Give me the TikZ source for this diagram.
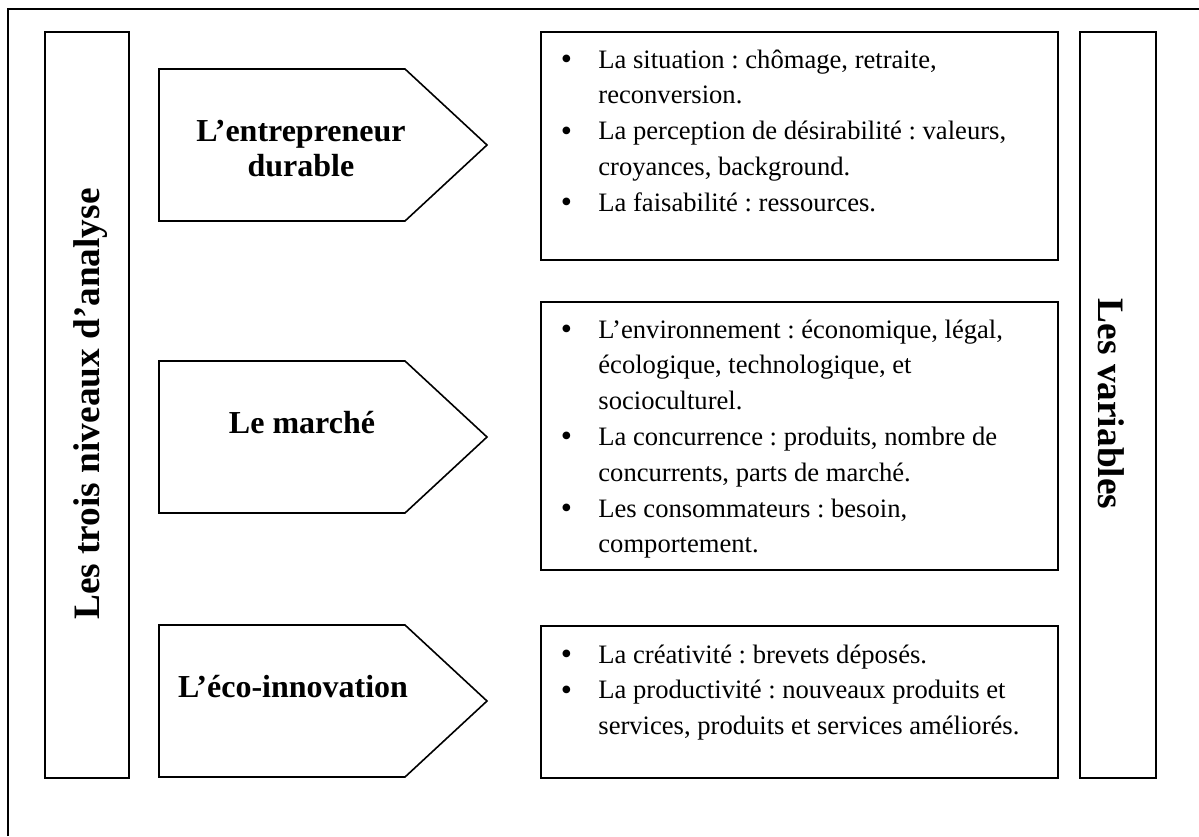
\documentclass[tikz,border=0pt]{standalone}
\usepackage{fontspec}
\setmainfont{Liberation Serif}
\frenchspacing
\newcommand\bigdot{\raisebox{-0.7pt}{\fontsize{16}{16}\selectfont\textbullet}}
\newcommand\itm[1]{\par\noindent\hangindent=29pt\hangafter=1\makebox[29pt][l]{\hspace{10.2pt}\bigdot}#1}
\tikzset{
  frame/.style={draw, line width=1pt},
  boxst/.style={draw, line width=1pt, anchor=north west, inner sep=0pt},
  arrowshape/.style={draw, line width=0.8pt},
  head/.style={font=\bfseries\fontsize{16}{17.5}\selectfont, align=center, inner sep=0pt},
  side/.style={font=\bfseries\fontsize{18.65}{20}\selectfont, inner sep=0pt, anchor=base},
  body/.style={font=\fontsize{13.3}{17.9}\selectfont, inner sep=0pt, anchor=base west},
}
\begin{document}
\begin{tikzpicture}[x=0.5pt, y=-0.5pt]
\useasboundingbox (0,0) rectangle (1199,836);
% outer frame (cropped at right and bottom)
\coordinate (fb) at (8,836);
\coordinate (fc) at (8,9);
\coordinate (fr) at (1199,9);
\draw[frame] (fb) -- (fc) -- (fr);

% side boxes
\node[boxst, minimum width=42pt, minimum height=373pt] (left) at (44,31) {};
\node[boxst, minimum width=38pt, minimum height=373pt] (right) at (1079,31) {};
\node[side, rotate=90] (lefttext) at (99,404) {Les trois niveaux d’analyse};
\node[side, rotate=-90] (righttext) at (1098,404) {Les variables};

% arrows
\draw[arrowshape] (159,69) -- (405,69) -- (487,145) -- (405,221) -- (159,221) -- cycle;
\draw[arrowshape] (159,361) -- (405,361) -- (487,437) -- (405,513) -- (159,513) -- cycle;
\draw[arrowshape] (159,625) -- (405,625) -- (487,701) -- (405,777) -- (159,777) -- cycle;
\node[head] (a1) at (301,149) {L’entrepreneur\\durable};
\node[head, anchor=base] (a2) at (302,433) {Le marché};
\node[head, anchor=base] (a3) at (293,697) {L’éco-innovation};

% variable boxes
\node[boxst, minimum width=258.5pt, minimum height=114pt] (b1) at (540,31) {};
\node[boxst, minimum width=258.5pt, minimum height=134pt] (b2) at (540,301) {};
\node[boxst, minimum width=258.5pt, minimum height=76pt] (b3) at (540,625) {};

\node[body] (t1) at ([yshift=-18.5pt]b1.north west) {\parbox[t]{255pt}{\raggedright\let\\\newline
\itm{La situation : chômage, retraite,\\reconversion.}
\itm{La perception de désirabilité : valeurs,\\croyances, background.}
\itm{La faisabilité : ressources.}}};

\node[body] (t2) at ([yshift=-18.5pt]b2.north west) {\parbox[t]{255pt}{\raggedright\let\\\newline
\itm{L’environnement : économique, légal,\\écologique, technologique, et\\socioculturel.}
\itm{La concurrence : produits, nombre de\\concurrents, parts de marché.}
\itm{Les consommateurs : besoin,\\comportement.}}};

\node[body] (t3) at ([yshift=-19pt]b3.north west) {\parbox[t]{255pt}{\raggedright\let\\\newline
\itm{La créativité : brevets déposés.}
\itm{La productivité : nouveaux produits et\\services, produits et services améliorés.}}};
\end{tikzpicture}
\end{document}
